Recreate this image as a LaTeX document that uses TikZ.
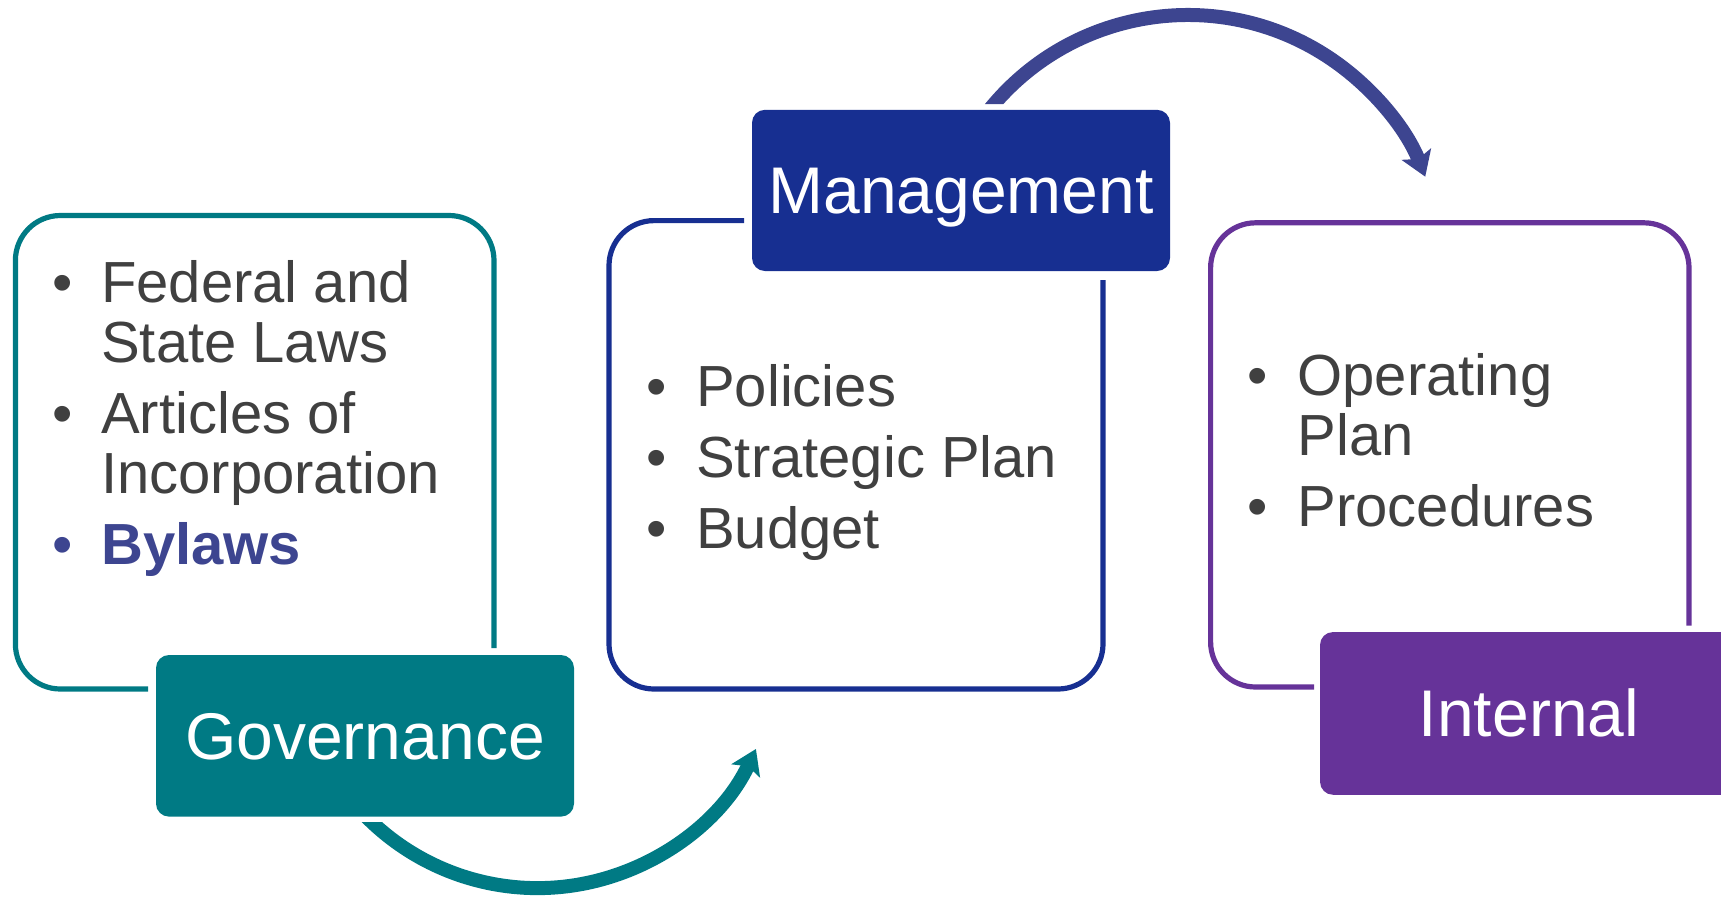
\documentclass[tikz,border=0pt]{standalone}
\usepackage{fontspec}
\setmainfont{Liberation Sans}
\usetikzlibrary{arrows.meta}
\definecolor{govc}{HTML}{007A84}
\definecolor{mgmc}{HTML}{172F91}
\definecolor{intc}{HTML}{663399}
\definecolor{arrc}{HTML}{3D4590}
\definecolor{txtc}{HTML}{404040}
\begin{document}
\begin{tikzpicture}[x=1pt,y=-1pt,
  outl/.style={line width=5.2pt, rounded corners=45pt},
  fbox/.style={rounded corners=13pt, inner sep=0pt, minimum width=418pt, text=white,
     font=\fontsize{66}{68}\selectfont, text height=47pt, text depth=0pt},
  txt/.style={font=\fontsize{58}{60}\selectfont, text=txtc, inner sep=0pt, anchor=base west},
  bul/.style={font=\fontsize{58}{60}\selectfont, text=txtc, inner sep=0pt, anchor=base},
  bigarrow/.style={line width=14pt, -{Stealth[length=24pt, width=31pt, inset=5pt]}}
]
\useasboundingbox (0,0) rectangle (1721,898);
\clip (0,0) rectangle (1721,898);

% outline boxes
\draw[outl, govc] (494,648) -- (494,215.5) -- (15.4,215.5) -- (15.4,689) -- (148,689);
\draw[outl, mgmc] (744,220.6) -- (609,220.6) -- (609,689) -- (1103,689) -- (1103,280);
\draw[outl, intc] (1689,625.6) -- (1689,222.8) -- (1210.6,222.8) -- (1210.6,687) -- (1314,687);

% filled label boxes
\node[fbox, fill=govc, minimum height=161.6pt] (gov) at (365,735.8) {Governance};
\node[fbox, fill=mgmc, minimum height=161.2pt] (mgm) at (961,190.4) {Management};
\node[fbox, fill=intc, minimum height=162.7pt] (int) at (1529,713.4) {Internal};

% left box text
\node[bul] (b1) at (62.6,302) {•};
\node[txt] (t1a) at (101,302) {Federal and};
\node[txt] (t1b) at (101,362) {State Laws};
\node[bul] (b2) at (62.6,433) {•};
\node[txt] (t2a) at (101,433) {Articles of};
\node[txt] (t2b) at (101,493) {Incorporation};
\node[bul, text=arrc] (b3) at (62.6,564) {•};
\node[txt, text=arrc, font=\fontsize{58}{60}\selectfont\bfseries] (t3) at (101,564) {Bylaws};

% middle box text
\node[bul] (b4) at (656.4,406) {•};
\node[txt] (t4) at (696,406) {Policies};
\node[bul] (b5) at (656.4,477) {•};
\node[txt] (t5) at (696,477) {Strategic Plan};
\node[bul] (b6) at (656.4,548) {•};
\node[txt] (t6) at (696,548) {Budget};

% right box text
\node[bul] (b7) at (1258,395) {•};
\node[txt] (t7a) at (1297.4,395) {Operating};
\node[txt] (t7b) at (1297.4,455) {Plan};
\node[bul] (b8) at (1258,526) {•};
\node[txt] (t8) at (1297.4,526) {Procedures};

% bottom arrow (Governance -> Management)
\coordinate (c1) at (537.5,647.1);
\begin{scope}
\clip (0,822) -- (650,822) -- (650,600) -- (1721,600) -- (1721,898) -- (0,898) -- cycle;
\draw[bigarrow, govc] (c1) ++(140:241) arc[start angle=140, end angle=25, radius=241];
\end{scope}

% top arrow (Management -> Internal)
\coordinate (c2) at (1187.8,270.2);
\begin{scope}
\clip (0,0) -- (1721,0) -- (1721,400) -- (1150,400) -- (1150,104) -- (0,104) -- cycle;
\draw[bigarrow, arrc] (c2) ++(-145:255.2) arc[start angle=-145, end angle=-21.5, radius=255.2];
\end{scope}
\end{tikzpicture}
\end{document}
